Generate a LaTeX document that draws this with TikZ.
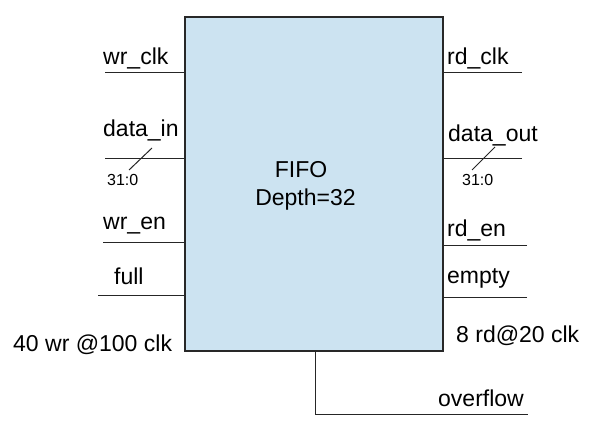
\documentclass[tikz,border=0pt]{standalone}
\usepackage{fontspec}
\setmainfont{Liberation Sans}
\usepackage{tikz}
\usepackage{xcolor}
\usetikzlibrary{positioning}
\definecolor{fifoblue}{RGB}{204,227,241}
\definecolor{boxborder}{RGB}{40,40,40}
\tikzstyle{block} = [rectangle, draw=boxborder, fill=fifoblue, line width=1.4pt,
minimum width=258pt, minimum height=334pt, inner sep=0pt]
\tikzstyle{pin} = [anchor=base west, inner sep=0pt, font=\fontsize{23}{27}\selectfont]
\tikzstyle{buswidth} = [anchor=base west, inner sep=0pt, font=\fontsize{16}{19}\selectfont]
\tikzstyle{line} = [draw, line width=1pt, black!85]

\begin{document}
\begin{tikzpicture}[x=1pt, y=-1pt]
	\useasboundingbox (0,0) rectangle (597,430);
	
	% Place nodes
	\node [block] (FIFO) at (314,184) {};
	\node [pin, anchor=base] (Title) at (301,178) {FIFO};
	\node [pin, anchor=base] (Depth) at (305.5,206) {Depth=32};
	
	\node [pin] (wr_clk)   at (103,65)  {wr\_clk};
	\node [pin] (data_in)  at (103,137) {data\_in};
	\node [pin] (wr_en)    at (103,230) {wr\_en};
	\node [pin] (full)     at (114,285) {full};
	\node [pin] (wr_rate)  at (13,351)  {40 wr @100 clk};
	\node [buswidth] (in_width)  at (107,186) {31:0};
	
	\node [pin] (rd_clk)   at (447,65)  {rd\_clk};
	\node [pin] (data_out) at (448,142) {data\_out};
	\node [pin] (rd_en)    at (447,237) {rd\_en};
	\node [pin] (empty)    at (447,284) {empty};
	\node [pin] (rd_rate)  at (456,342) {8 rd@20 clk};
	\node [buswidth] (out_width) at (462,186) {31:0};
	
	\node [pin] (overflow) at (438,406) {overflow};
	
	% Free ends of the wires
	\coordinate (wr_clk end)   at (105,73);
	\coordinate (data_in end)  at (105,159);
	\coordinate (wr_en end)    at (103,243);
	\coordinate (full end)     at (98,296);
	\coordinate (rd_clk end)   at (522,73);
	\coordinate (data_out end) at (522,159);
	\coordinate (rd_en end)    at (527,246);
	\coordinate (empty end)    at (527,298);
	\coordinate (overflow top) at (315,351);
	\coordinate (overflow bend) at (315,414);
	\coordinate (overflow end) at (528,414);
	
	%Draw edges
	\path [line] (wr_clk end)   -- (wr_clk end -| FIFO.west);
	\path [line] (data_in end)  -- (data_in end -| FIFO.west);
	\path [line] (wr_en end)    -- (wr_en end -| FIFO.west);
	\path [line] (full end)     -- (full end -| FIFO.west);
	\path [line] (rd_clk end)   -- (rd_clk end -| FIFO.east);
	\path [line] (data_out end) -- (data_out end -| FIFO.east);
	\path [line] (rd_en end)    -- (rd_en end -| FIFO.east);
	\path [line] (empty end)    -- (empty end -| FIFO.east);
	\path [line] (overflow top) -- (overflow bend) -- (overflow end);
	
	% Bus slashes
	\path [line] (129,170) -- (152,148);
	\path [line] (472,170) -- (495,147);
	
\end{tikzpicture}
\end{document}
